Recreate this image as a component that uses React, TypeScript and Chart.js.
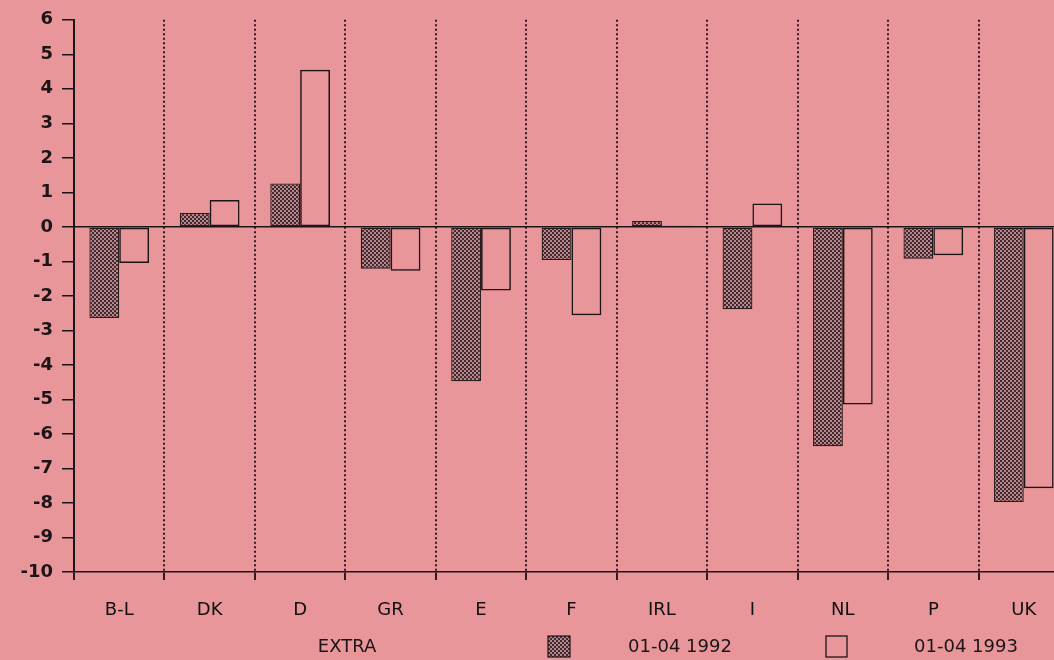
import React, { useEffect, useRef } from "react";
import { Chart, registerables } from "chart.js";

Chart.register(...registerables);

const categories = ["B-L", "DK", "D", "GR", "E", "F", "IRL", "I", "NL", "P", "UK"];
const values1992 = [-2.64, 0.4, 1.26, -1.21, -4.47, -0.96, 0.17, -2.39, -6.36, -0.92, -7.97];
const values1993 = [-1.05, 0.78, 4.55, -1.27, -1.84, -2.56, 0.03, 0.68, -5.15, -0.82, -7.57];
const seriesLabels = ["01-04 1992", "01-04 1993"];
const groupLabel = "EXTRA";
const yMin = -10;
const yMax = 6;
const yStep = 1;

const BG = "#e8969a";
const INK = "#1c1416";

function makePattern(): CanvasPattern | string {
  const c = document.createElement("canvas");
  c.width = 4;
  c.height = 4;
  const g = c.getContext("2d");
  if (!g) return "#7c585c";
  g.fillStyle = "#b9878b";
  g.fillRect(0, 0, 4, 4);
  g.fillStyle = "#3e2a2e";
  g.fillRect(0, 0, 2, 2);
  g.fillRect(2, 2, 2, 2);
  const p = g.createPattern(c, "repeat");
  return p || "#7c585c";
}

export default function App() {
  const ref = useRef<HTMLCanvasElement | null>(null);

  useEffect(() => {
    document.body.style.background = BG;
    document.body.style.overflow = "hidden";
    const canvas = ref.current;
    if (!canvas) return;
    const pattern = makePattern();

    const legendPlugin = {
      id: "customLegend",
      afterDraw(chart: any) {
        const ctx = chart.ctx as CanvasRenderingContext2D;
        const cy = 647;
        ctx.save();
        ctx.font = "18px 'DejaVu Sans'";
        ctx.fillStyle = INK;
        ctx.textAlign = "center";
        ctx.textBaseline = "middle";
        ctx.fillText(groupLabel, 347, cy);
        ctx.fillStyle = pattern as any;
        ctx.fillRect(548, 636, 22, 21);
        ctx.strokeStyle = INK;
        ctx.lineWidth = 1.2;
        ctx.strokeRect(548, 636, 22, 21);
        ctx.fillStyle = INK;
        ctx.fillText(seriesLabels[0], 680, cy);
        ctx.strokeStyle = INK;
        ctx.lineWidth = 1.3;
        ctx.strokeRect(826, 636, 21, 21);
        ctx.fillText(seriesLabels[1], 966, cy);
        ctx.restore();
      },
    };

    const chart = new Chart(canvas, {
      type: "bar",
      data: {
        labels: categories,
        datasets: [
          {
            label: seriesLabels[0],
            data: values1992,
            backgroundColor: pattern as any,
            borderColor: "#2a1d20",
            borderWidth: 1.3,
            borderSkipped: false,
            categoryPercentage: 0.66,
            barPercentage: 1,
          },
          {
            label: seriesLabels[1],
            data: values1993,
            backgroundColor: "rgba(0,0,0,0)",
            borderColor: INK,
            borderWidth: 1.5,
            borderSkipped: false,
            categoryPercentage: 0.66,
            barPercentage: 1,
          },
        ],
      },
      options: {
        animation: false,
        responsive: false,
        devicePixelRatio: 1,
        layout: { padding: { top: 18, left: 0, right: 0, bottom: 0 } },
        plugins: {
          legend: { display: false },
          tooltip: { enabled: false },
          title: { display: false },
        },
        scales: {
          x: {
            offset: true,
            grid: {
              display: true,
              offset: true,
              color: "rgba(40,20,25,0.95)",
              lineWidth: 2,
              drawOnChartArea: true,
              drawTicks: true,
              tickLength: 8,
            },
            border: { display: true, color: INK, width: 1.6, dash: [2, 2.5] },
            ticks: {
              color: "#111",
              font: { family: "'DejaVu Sans'", size: 18 },
              padding: 20,
              maxRotation: 0,
            },
            afterFit(scale: any) {
              scale.height = 88;
            },
          },
          y: {
            min: yMin,
            max: yMax,
            ticks: {
              stepSize: yStep,
              color: INK,
              font: { family: "'DejaVu Sans'", size: 18, weight: "bold" },
              padding: 9,
            },
            grid: {
              drawOnChartArea: true,
              drawTicks: true,
              tickLength: 12,
              color: (c: any) => (c.tick && c.tick.value === 0 ? INK : "rgba(0,0,0,0)"),
              tickColor: INK,
              lineWidth: 1.5,
            },
            border: { display: true, color: INK, width: 2 },
            afterFit(scale: any) {
              scale.width = 74;
            },
          },
        },
      },
      plugins: [legendPlugin],
    });

    return () => {
      chart.destroy();
    };
  }, []);

  return (
    <div
      style={{
        position: "fixed",
        left: 0,
        top: 0,
        width: 1054,
        height: 660,
        overflow: "hidden",
        background: BG,
      }}
    >
      <canvas ref={ref} width={1069} height={660} style={{ display: "block" }} />
    </div>
  );
}
